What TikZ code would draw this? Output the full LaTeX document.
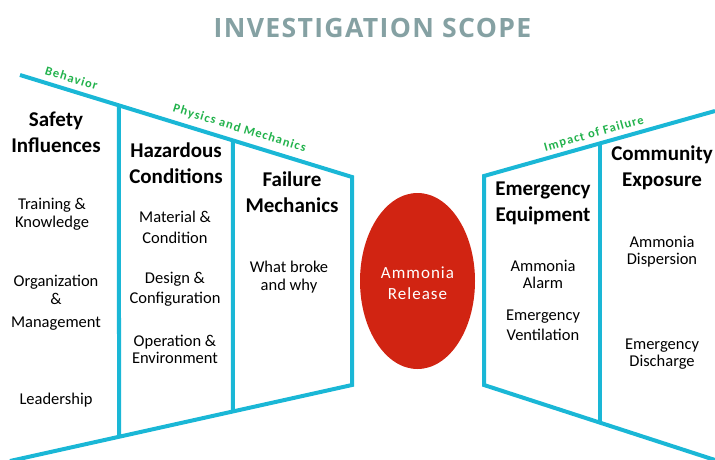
\documentclass[tikz,border=0pt]{standalone}
\usepackage{fontspec}
\setmainfont{Carlito}
\newfontfamily\titlefont{Open Sans}[LetterSpace=5]
\newfontfamily\greenfont{Carlito}[LetterSpace=9]
\newfontfamily\ellfont{Carlito}[LetterSpace=6]
\usetikzlibrary{calc,shapes.geometric}
\definecolor{cyanline}{RGB}{26,183,214}
\definecolor{greenlbl}{RGB}{34,178,76}
\definecolor{titlegray}{RGB}{133,161,163}
\definecolor{relred}{RGB}{209,36,18}
\begin{document}
\begin{tikzpicture}[x=1pt,y=-1pt,
  frame/.style={draw=cyanline,line width=4pt,line join=miter},
  head/.style={font=\fontsize{21}{26}\selectfont\bfseries,align=center,inner sep=0pt},
  item/.style={font=\fontsize{16.5}{18}\selectfont,align=center,inner sep=0pt},
  lbl/.style={font=\greenfont\fontsize{12.5}{14}\selectfont\bfseries,text=greenlbl,inner sep=0pt}]
\useasboundingbox (0,0) rectangle (715,460);

% title
\node[font=\titlefont\fontsize{26.6}{30}\selectfont\bfseries,text=titlegray,anchor=base] (title) at (372.5,37.3) {INVESTIGATION SCOPE};

% left frame
\coordinate (ltl) at (20,75);
\coordinate (ltr) at (352,177);
\coordinate (lbr) at (352,385);
\coordinate (lbl) at (10,461);
\draw[frame] (ltl) -- (ltr) -- (lbr) -- (lbl);
\coordinate (d1t) at ($(ltl)!{(119-20)/332}!(ltr)$);
\coordinate (d1b) at ($(lbl)!{(119-10)/342}!(lbr)$);
\coordinate (d2t) at ($(ltl)!{(233-20)/332}!(ltr)$);
\coordinate (d2b) at ($(lbl)!{(233-10)/342}!(lbr)$);
\draw[frame] (d1t) -- (d1b);
\draw[frame] (d2t) -- (d2b);

% right frame
\coordinate (rtr) at (715,111);
\coordinate (rtl) at (484,176);
\coordinate (rbl) at (484,385);
\coordinate (rbr) at (715,460);
\draw[frame] (rtr) -- (rtl) -- (rbl) -- (rbr);
\coordinate (d3t) at ($(rtl)!{(600-484)/231}!(rtr)$);
\coordinate (d3b) at ($(rbl)!{(600-484)/231}!(rbr)$);
\draw[frame] (d3t) -- (d3b);

% green labels
\node[lbl,rotate=-17] (behav) at (71.5,78) {Behavior};
\node[lbl,rotate=-17] (phys) at (239.5,128.5) {Physics and Mechanics};
\node[lbl,rotate=15.7] (impact) at (594,134) {Impact of Failure};

% ellipse
\node[ellipse,fill=relred,minimum width=115pt,minimum height=176pt,inner sep=0pt] (rel) at (417.5,281) {};
\node[font=\ellfont\fontsize{17}{21}\selectfont,text=white,align=center,inner sep=0pt] (reltxt) at (417.5,283) {Ammonia\\Release};

% headings
\node[head] (safety) at (56,132.5) {Safety\\Influences};
\node[head] (hazard) at (176,163) {Hazardous\\Conditions};
\node[head] (failure) at (292,192.5) {Failure\\Mechanics};
\node[head] (emerg) at (543,203) {Emergency\\Equipment};
\node[head] (comm) at (662,168) {Community\\Exposure};

% items
\node[item] (train) at (52,214.5) {Training \&\\Knowledge};
\node[item] (org) at (56,302.5) {Organization\\\&\\[5pt]Management};
\node[item] (lead) at (56,400) {Leadership};
\node[item,font=\fontsize{16.5}{21}\selectfont] (mat) at (175,227) {Material \&\\Condition};
\node[item,font=\fontsize{16.5}{20}\selectfont] (design) at (175,289) {Design \&\\Configuration};
\node[item,font=\fontsize{16.5}{17.5}\selectfont] (oper) at (175,349.5) {Operation \&\\Environment};
\node[item] (broke) at (289,277.5) {What broke\\and why};
\node[item,font=\fontsize{16.5}{17}\selectfont] (alarm) at (543,274.5) {Ammonia\\Alarm};
\node[item,font=\fontsize{16.5}{20}\selectfont] (vent) at (543,325) {Emergency\\Ventilation};
\node[item,font=\fontsize{16.5}{17}\selectfont] (disp) at (662,251.5) {Ammonia\\Dispersion};
\node[item,font=\fontsize{16.5}{17}\selectfont] (disch) at (662,354) {Emergency\\Discharge};
\end{tikzpicture}
\end{document}
